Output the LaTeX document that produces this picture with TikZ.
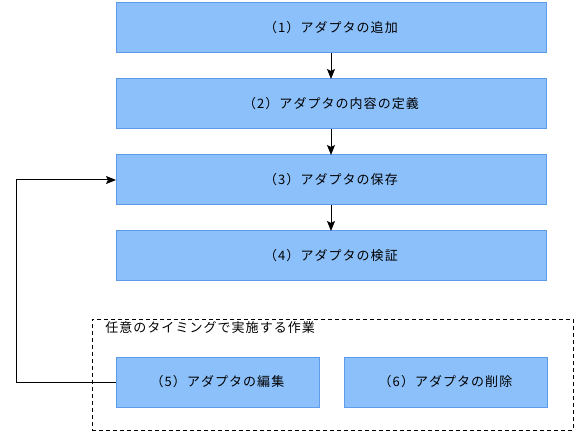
\documentclass[tikz,border=0pt]{standalone}
\usepackage{fontspec}
\setmainfont{Noto Sans CJK JP}[LetterSpace=8]
\usetikzlibrary{arrows.meta, positioning}
\definecolor{boxfill}{RGB}{140,192,250}
\definecolor{boxline}{RGB}{95,155,235}

\begin{document}
\begin{tikzpicture}[x=1pt, y=-1pt, node distance=26pt, line width=1pt,
  stepbox/.style={draw=boxline, fill=boxfill, minimum width=430pt, minimum height=50pt, inner sep=0pt, outer sep=0pt, font=\fontsize{13}{15}\selectfont},
  subbox/.style={stepbox, minimum width=203pt},
  flow/.style={-{Stealth[length=10pt, width=8pt, inset=2pt]}}]
        \useasboundingbox (0,0) rectangle (575,435);

        \node[stepbox] (1) at (331,28) {（1）アダプタの追加};
        \node[stepbox] (2) [below=of 1] {（2）アダプタの内容の定義};
        \node[stepbox] (3) [below=of 2] {（3）アダプタの保存};
        \node[stepbox] (4) [below=of 3] {（4）アダプタの検証};

        % optional tasks
        \node[draw, dashed, dash pattern=on 4pt off 3pt, minimum width=481pt, minimum height=111pt, inner sep=0pt] (group) at (332.5,374.5) {};
        \node[anchor=west, font=\fontsize{13}{15}\selectfont] (grouplabel) at (101.5,328) {任意のタイミングで実施する作業};
        \node[subbox] (5) at (217.5,382) {（5）アダプタの編集};
        \node[subbox] (6) [right=25pt of 5] {（6）アダプタの削除};

        \draw[flow] (1) -- (2);
        \draw[flow] (2) -- (3);
        \draw[flow] (3) -- (4);
        \draw[flow] (5.west) -- ++(-100,0) |- (3.west);
  \end{tikzpicture}
\end{document}
